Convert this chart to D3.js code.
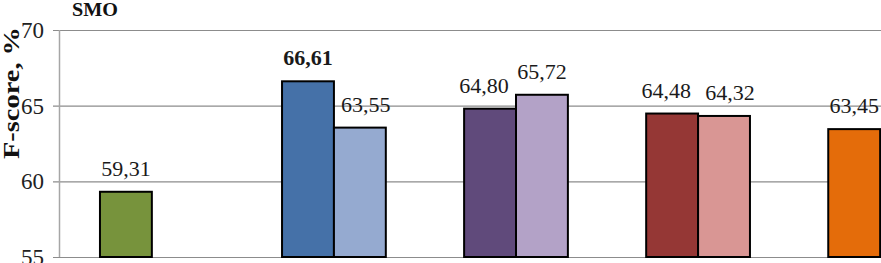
<!DOCTYPE html>
<html>
<head>
<meta charset="utf-8">
<script src="https://cdn.jsdelivr.net/npm/d3@7"></script>
<style>
  html, body { margin: 0; padding: 0; background: #fff; }
  svg { display: block; }
</style>
</head>
<body>
<div id="chart"></div>
<script>
// chart data (x-axis category names are cut off in the source picture)
const groups = ['g1', 'g2', 'g3', 'g4', 'g5'];
const seriesKeys = ['first', 'second'];
const firstValues = [59.31, 66.61, 64.80, 64.48, 63.45];
const secondValues = [null, 63.55, 65.72, 64.32, null];
const firstColors = ['#77933C', '#4571A8', '#604A7B', '#953735', '#E46C0A'];
const secondColors = [null, '#95AAD0', '#B3A2C7', '#D99694', null];
const yTicks = [55, 60, 65, 70];

const W = 881, H = 263;
const margin = {top: 30, left: 59, bottom: 6};
const FONT = 'Liberation Serif';

const rows = [];
groups.forEach((g, i) => {
    const a = firstValues[i], b = secondValues[i];
    // push labels of near-equal / lower pairs apart a little, like the spreadsheet did
    if (a != null) rows.push({group: g, key: 'first', value: a, color: firstColors[i],
        dx: (b != null && a < b + 0.5) ? -6 : 0});
    if (b != null) rows.push({group: g, key: 'second', value: b, color: secondColors[i],
        dx: (a != null && b < a + 0.5) ? 6 : 0});
});
const best = d3.max(rows, d => d.value);

const svg = d3.select('#chart').append('svg')
    .attr('width', W)
    .attr('height', H);

const x = d3.scaleBand()
    .domain(groups)
    .range([margin.left, 973])
    .paddingInner(0.43)
    .paddingOuter(0.225);

const xInner = d3.scaleBand()
    .domain(seriesKeys)
    .range([0, x.bandwidth()]);

const y = d3.scaleLinear()
    .domain([55, 70])
    .range([H - margin.bottom, margin.top]);

// gridlines + tick labels
const yAxis = svg.append('g')
    .attr('transform', `translate(${margin.left},0)`)
    .call(d3.axisLeft(y).tickValues(yTicks).tickSize(-(W - margin.left)).tickPadding(15).tickFormat(d3.format('d')));
yAxis.select('.domain').remove();
yAxis.selectAll('.tick line')
    .attr('x1', -6)
    .attr('stroke', '#8c8c8c')
    .attr('stroke-width', 1.2);
yAxis.selectAll('.tick text')
    .attr('fill', '#222')
    .attr('font-family', FONT)
    .attr('font-size', 23);

// vertical axis line
svg.append('line')
    .attr('x1', margin.left + 0.5).attr('x2', margin.left + 0.5)
    .attr('y1', y(70)).attr('y2', y(55))
    .attr('stroke', '#a6a6a6')
    .attr('stroke-width', 1.5);

// bars
svg.selectAll('.bar')
    .data(rows)
    .enter()
    .append('rect')
    .attr('class', 'bar')
    .attr('x', d => x(d.group) + xInner(d.key))
    .attr('y', d => y(d.value))
    .attr('width', xInner.bandwidth())
    .attr('height', d => y(55) - y(d.value))
    .attr('fill', d => d.color)
    .attr('stroke', '#000')
    .attr('stroke-width', 2);

// value labels
const fmt = v => d3.format('.2f')(v).replace('.', ',');
svg.selectAll('.val')
    .data(rows)
    .enter()
    .append('text')
    .attr('class', 'val')
    .attr('x', d => x(d.group) + xInner(d.key) + xInner.bandwidth() / 2 + d.dx)
    .attr('y', d => y(d.value) - 16)
    .attr('text-anchor', 'middle')
    .attr('fill', '#1a1a1a')
    .attr('font-family', FONT)
    .attr('font-size', 22)
    .attr('font-weight', d => d.value === best ? 'bold' : 'normal')
    .text(d => fmt(d.value));

// y-axis title
svg.append('text')
    .attr('transform', 'translate(19,93) rotate(-90)')
    .attr('text-anchor', 'middle')
    .attr('fill', '#111')
    .attr('font-family', FONT)
    .attr('font-size', 23)
    .attr('font-weight', 'bold')
    .attr('textLength', 132)
    .attr('lengthAdjust', 'spacingAndGlyphs')
    .text('F-score, %');

// chart title
svg.append('text')
    .attr('x', 72)
    .attr('y', 16)
    .attr('fill', '#111')
    .attr('font-family', FONT)
    .attr('font-size', 19)
    .attr('font-weight', 'bold')
    .attr('textLength', 46)
    .attr('lengthAdjust', 'spacingAndGlyphs')
    .text('SMO');
</script>
</body>
</html>
